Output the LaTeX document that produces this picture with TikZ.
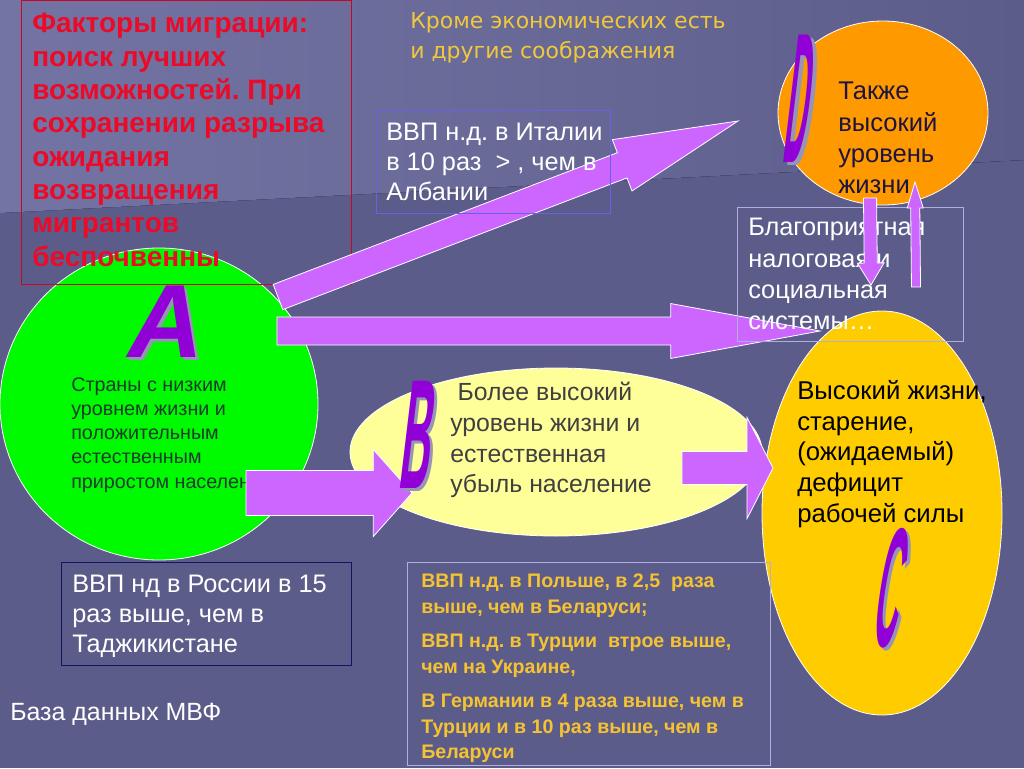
\documentclass[tikz,border=0pt]{standalone}
\usepackage{fontspec}
\setmainfont{Liberation Sans}
\newfontfamily\notefont{DejaVu Sans}
\usetikzlibrary{shapes.geometric,calc}
\frenchspacing

\definecolor{slidebg}{RGB}{92,92,138}
\definecolor{wedgelight}{RGB}{116,116,164}
\definecolor{titlered}{RGB}{235,10,40}
\definecolor{noteyellow}{RGB}{240,200,60}
\definecolor{gdpyellow}{RGB}{245,195,50}
\definecolor{arrowlilac}{RGB}{204,102,255}
\definecolor{limegreen}{RGB}{0,250,0}
\definecolor{greentext}{RGB}{25,60,45}
\definecolor{paleyellow}{RGB}{255,255,153}
\definecolor{darkgraytext}{RGB}{64,64,64}
\definecolor{deeporange}{RGB}{255,153,0}
\definecolor{navytext}{RGB}{30,20,64}
\definecolor{goldfill}{RGB}{255,204,0}
\definecolor{boxblue}{RGB}{100,100,225}
\definecolor{boxlavender}{RGB}{175,175,225}
\definecolor{boxnavy}{RGB}{20,20,100}
\definecolor{letterviolet}{RGB}{145,0,215}
\definecolor{letterfog}{RGB}{150,150,180}

% block arrow: tail, tip, half shaft, half head, head length
\newcommand\blockarrow[5]{%
  \coordinate (#1hb) at ($(#2)!#5!(#1)$);
  \draw[blockarrow] ($(#1)!#3!90:(#2)$) -- ($(#1hb)!#3!90:(#2)$) -- ($(#1hb)!#4!90:(#2)$) -- (#2)
    -- ($(#1hb)!#4!-90:(#2)$) -- ($(#1hb)!#3!-90:(#2)$) -- ($(#1)!#3!-90:(#2)$) -- cycle;}

\begin{document}
\begin{tikzpicture}[x=0.75pt,y=0.75pt,yscale=-1,xscale=1,
  bubble/.style={ellipse, draw=white, line width=0.6pt, inner sep=0pt},
  infobox/.style={rectangle, draw, line width=0.75pt, inner sep=0pt, anchor=north west},
  txt/.style={anchor=north west, inner sep=0pt, align=left},
  blockarrow/.style={fill=arrowlilac, draw=white, line width=0.6pt, line join=miter},
  letterart/.style={transform shape, inner sep=0pt, text=letterviolet},
  lettershadow/.style={transform shape, inner sep=0pt, text=letterfog}]
\useasboundingbox (0,0) rectangle (1024,768);

%Background
\fill[slidebg] (0,0) rectangle (1024,768);
\fill[left color=wedgelight, right color=slidebg, middle color=wedgelight!55!slidebg] (0,0) -- (1024,0) -- (1024,160) -- (0,213) -- cycle;

%Shape: Ellipses
\node[bubble, fill=limegreen, minimum width=238.5pt, minimum height=234pt] (circA) at (159,404) {};
\node[bubble, fill=paleyellow, minimum width=309pt, minimum height=126pt] (ellB) at (556,452) {};
\node[bubble, fill=deeporange, minimum width=157.5pt, minimum height=138pt] (circD) at (883,113) {};
\node[bubble, fill=goldfill, minimum width=180pt, minimum height=303pt] (ellC) at (882,513) {};

%Red box
\node[infobox, draw=titlered!85!black, minimum width=247.5pt, minimum height=213pt] (factorbox) at (21,0) {};
% Text Node
\node[txt, text=titlered, font=\bfseries\fontsize{21}{25}\selectfont] (factors) at (32,13) {Факторы миграции:\\поиск лучших\\возможностей. При\\сохранении разрыва\\ожидания\\возвращения\\мигрантов\\беспочвенны};
% Text Node
\node[txt, text=noteyellow, font=\notefont\fontsize{16.5}{22.5}\selectfont] (besides) at (410,12) {Кроме экономических есть\\и другие соображения};

%Block arrows from A
\coordinate (upS) at (278,297);
\coordinate (upE) at (738,121);
\blockarrow{upS}{upE}{10.1pt}{20.6pt}{93pt}
\coordinate (flatS) at (277,331);
\coordinate (flatE) at (820,331);
\blockarrow{flatS}{flatE}{10.5pt}{20.6pt}{112pt}

%Italy box
\node[infobox, draw=boxblue, minimum width=175.5pt, minimum height=77pt] (italybox) at (376,110) {};
% Text Node
\node[txt, text=white, font=\fontsize{19}{22.5}\selectfont] (italy) at (386,123) {ВВП н.д. в Италии\\в 10 раз~~> , чем в\\Албании};

%Favourable box
\node[infobox, draw=boxlavender, minimum width=169.5pt, minimum height=100.5pt] (taxbox) at (737,207) {};
% Text Node
\node[txt, text=white, font=\fontsize{19}{23.5}\selectfont] (tax) at (748,218) {Благоприятная\\налоговая и\\социальная\\системы…};

% Text Node
\node[txt, text=greentext, font=\fontsize{14.8}{18.2}\selectfont] (lowcountries) at (71,377) {Страны с низким\\уровнем жизни и\\положительным\\естественным\\приростом населения};

%Block arrows A to B to C
\coordinate (abS) at (246,493);
\coordinate (abE) at (412,493);
\blockarrow{abS}{abE}{16.9pt}{32.6pt}{29pt}
\coordinate (bcS) at (682,468);
\coordinate (bcE) at (773,468);
\blockarrow{bcS}{bcE}{12.4pt}{38pt}{19.5pt}

% Text Node
\node[txt, text=darkgraytext, font=\fontsize{18.6}{23}\selectfont] (higherlevel) at (450,382) {\hspace*{0.3em}Более высокий\\уровень жизни и\\естественная\\убыль население};
% Text Node
\node[txt, text=navytext, font=\fontsize{19.2}{23.5}\selectfont] (alsohigh) at (838,82) {Также\\высокий\\уровень\\жизни};
% Text Node
\node[txt, text=black, font=\fontsize{19.3}{23}\selectfont] (ageing) at (797,380) {Высокий жизни,\\старение,\\(ожидаемый)\\дефицит\\рабочей силы};

%Small arrows D and box
\coordinate (downS) at (870,198);
\coordinate (downE) at (871,285);
\blockarrow{downS}{downE}{4.9pt}{10pt}{16.5pt}
\coordinate (riseS) at (916,287);
\coordinate (riseE) at (915,182);
\blockarrow{riseS}{riseE}{3.4pt}{6pt}{19.5pt}

%Letter A
\begin{scope}[shift={(168,322)},yscale=-1,xslant=0.2]
\node[lettershadow, font=\bfseries\fontsize{78}{78}\selectfont] (letAs) at (4,-3) {A};
\node[letterart, font=\bfseries\fontsize{78}{78}\selectfont] (letA) at (0,0) {A};
\end{scope}
%Letter B
\begin{scope}[shift={(419,435)},yscale=-1,xslant=0.12]
\node[lettershadow, font=\bfseries\fontsize{117}{117}\selectfont] (letBs) at (4,-3) {\scalebox{0.27}[1]{B}};
\node[letterart, font=\bfseries\fontsize{117}{117}\selectfont] (letB) at (0,0) {\scalebox{0.27}[1]{B}};
\end{scope}
%Letter D
\begin{scope}[shift={(801,99)},yscale=-1,xslant=0.12]
\node[lettershadow, font=\bfseries\fontsize{139}{139}\selectfont] (letDs) at (4,-3) {\scalebox{0.17}[1]{D}};
\node[letterart, font=\bfseries\fontsize{139}{139}\selectfont] (letD) at (0,0) {\scalebox{0.17}[1]{D}};
\end{scope}
%Letter C
\begin{scope}[shift={(892,588)},yscale=-1,xslant=0.16]
\node[lettershadow, font=\bfseries\fontsize{127}{127}\selectfont] (letCs) at (4,-3) {\scalebox{0.2}[1]{C}};
\node[letterart, font=\bfseries\fontsize{127}{127}\selectfont] (letC) at (0,0) {\scalebox{0.2}[1]{C}};
\end{scope}

%Russia box
\node[infobox, draw=boxnavy, minimum width=217.5pt, minimum height=77.25pt] (russiabox) at (61,562) {};
% Text Node
\node[txt, text=white, font=\fontsize{19}{22.5}\selectfont] (russia) at (72,575) {ВВП нд в России в 15\\раз выше, чем в\\Таджикистане};
% Text Node
\node[txt, text=white, font=\fontsize{18.7}{22}\selectfont] (imf) at (10,703) {База данных МВФ};

%GDP box
\node[infobox, draw=boxlavender, minimum width=272.25pt, minimum height=152.25pt] (gdpbox) at (407,562) {};
% Text Node
\node[txt, text=gdpyellow, font=\bfseries\fontsize{14.7}{19}\selectfont] (gdp) at (421,574) {ВВП н.д. в Польше, в 2,5~~раза\\выше, чем в Беларуси;\\[7pt]ВВП н.д. в Турции~~втрое выше,\\чем на Украине,\\[7pt]В Германии в 4 раза выше, чем в\\Турции и в 10 раз выше, чем в\\Беларуси};

\end{tikzpicture}
\end{document}
